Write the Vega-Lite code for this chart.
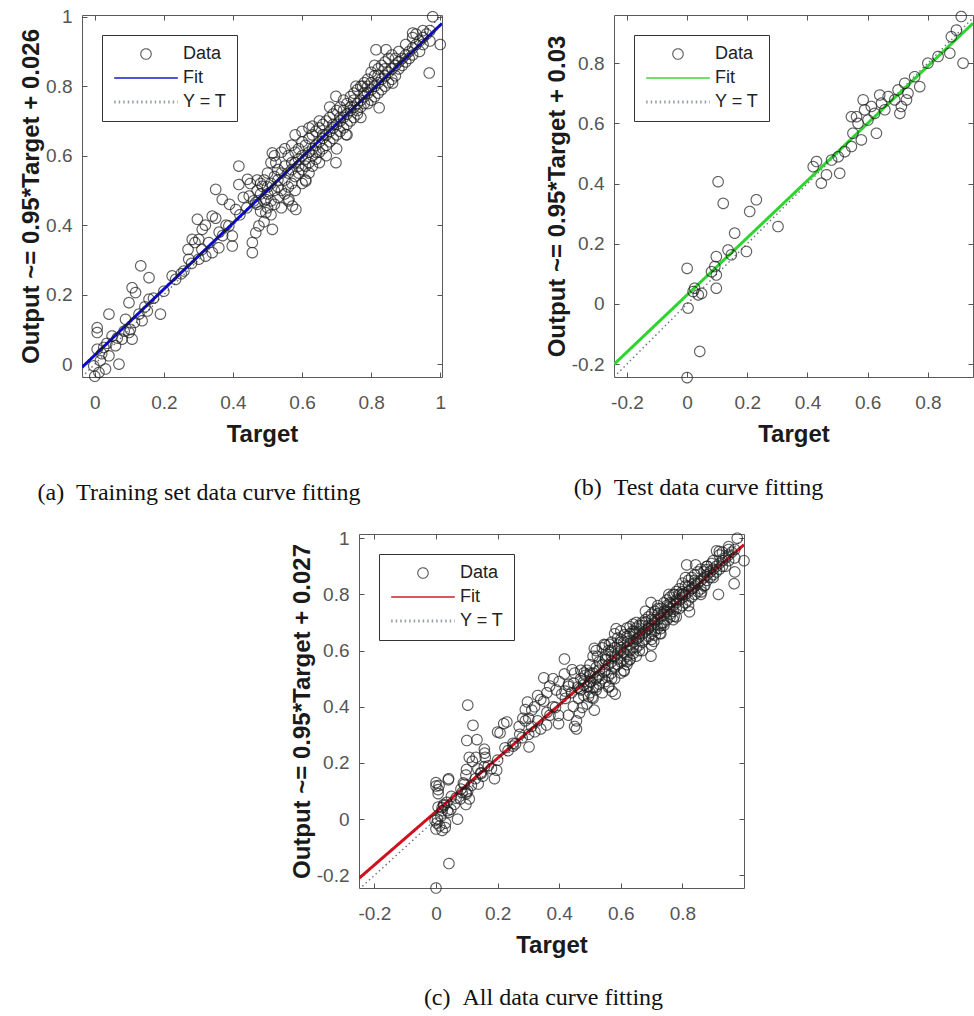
{
"$schema": "https://vega.github.io/schema/vega-lite/v6.json",
"padding": {"left": 19, "top": 7, "right": 0, "bottom": 4},
"background": "white",
"config": {
 "view": {"stroke": "#5a5a5a", "strokeWidth": 1},
 "axis": {"domain": false, "grid": false, "ticks": true, "tickSize": -5, "tickColor": "#555", "tickWidth": 1, "labelFont": "Liberation Sans", "labelFontSize": 19, "labelColor": "#555", "labelFlush": false, "labelOverlap": false, "titleFont": "Liberation Sans", "titleFontSize": 24, "titleFontWeight": "bold", "titleColor": "#1a1a1a"},
 "axisX": {"labelPadding": 21, "titlePadding": 10},
 "axisY": {"labelPadding": 15, "titlePadding": 2},
 "legend": {"orient": "top-left", "offset": 20, "padding": 10, "strokeColor": "#333", "fillColor": "white", "symbolSize": 200, "symbolOffset": 25, "labelOffset": 28, "rowPadding": 6, "labelFont": "Liberation Sans", "labelFontSize": 18, "labelColor": "#222", "symbolFillColor": "transparent"}
},
"datasets": {
"lines": [
{"p":"a","k":"Fit","t":-0.037,"o":-0.0092},{"p":"a","k":"Fit","t":1.005,"o":0.9808},
{"p":"a","k":"Y = T","t":-0.037,"o":-0.037},{"p":"a","k":"Y = T","t":1.005,"o":1.005},
{"p":"b","k":"Fit","t":-0.243,"o":-0.2009},{"p":"b","k":"Fit","t":0.95,"o":0.9325},
{"p":"b","k":"Y = T","t":-0.243,"o":-0.243},{"p":"b","k":"Y = T","t":0.95,"o":0.95},
{"p":"c","k":"Fit","t":-0.25,"o":-0.2105},{"p":"c","k":"Fit","t":1.0,"o":0.977},
{"p":"c","k":"Y = T","t":-0.25,"o":-0.25},{"p":"c","k":"Y = T","t":1.0,"o":1.0}
],
"pts": [
{"s":"a","t":0,"o":-0.035},{"s":"a","t":0.012,"o":-0.024},{"s":"a","t":-0.003,"o":-0.005},{"s":"a","t":0.031,"o":-0.014},{"s":"a","t":0.016,"o":0.01},{"s":"a","t":0.041,"o":0.024},{"s":"a","t":0.007,"o":0.043},{"s":"a","t":0.026,"o":0.048},{"s":"a","t":0.07,"o":0},{"s":"a","t":0.007,"o":0.105},{"s":"a","t":0.007,"o":0.091},{"s":"a","t":0.041,"o":0.144},{"s":"a","t":0.06,"o":0.053},{"s":"a","t":0.079,"o":0.072},{"s":"a","t":0.099,"o":0.091},{"s":"a","t":0.108,"o":0.072},{"s":"a","t":0.103,"o":0.1},{"s":"a","t":0.099,"o":0.177},{"s":"a","t":0.108,"o":0.22},{"s":"a","t":0.133,"o":0.283},{"s":"a","t":0.118,"o":0.206},{"s":"a","t":0.137,"o":0.125},{"s":"a","t":0.157,"o":0.249},{"s":"a","t":0.157,"o":0.187},{"s":"a","t":0.152,"o":0.153},{"s":"a","t":0.19,"o":0.144},{"s":"a","t":0.128,"o":0.144},{"s":"a","t":0.089,"o":0.129},{"s":"a","t":0.05,"o":0.081},{"s":"a","t":0.224,"o":0.254},{"s":"a","t":0.258,"o":0.268},{"s":"a","t":0.282,"o":0.359},{"s":"a","t":0.297,"o":0.417},{"s":"a","t":0.301,"o":0.359},{"s":"a","t":0.311,"o":0.388},{"s":"a","t":0.301,"o":0.302},{"s":"a","t":0.321,"o":0.311},{"s":"a","t":0.34,"o":0.426},{"s":"a","t":0.35,"o":0.503},{"s":"a","t":0.369,"o":0.474},{"s":"a","t":0.359,"o":0.335},{"s":"a","t":0.34,"o":0.321},{"s":"a","t":0.388,"o":0.398},{"s":"a","t":0.398,"o":0.369},{"s":"a","t":0.398,"o":0.34},{"s":"a","t":0.417,"o":0.57},{"s":"a","t":0.417,"o":0.517},{"s":"a","t":0.408,"o":0.445},{"s":"a","t":0.442,"o":0.532},{"s":"a","t":0.456,"o":0.321},{"s":"a","t":0.456,"o":0.35},{"s":"a","t":0.466,"o":0.378},{"s":"a","t":0.475,"o":0.398},{"s":"a","t":0.514,"o":0.388},{"s":"a","t":0.485,"o":0.512},{"s":"a","t":0.495,"o":0.474},{"s":"a","t":0.466,"o":0.465},{"s":"a","t":0.447,"o":0.484},{"s":"a","t":0.495,"o":0.436},{"s":"a","t":0.272,"o":0.302},{"s":"a","t":0.234,"o":0.244},
{"s":"a","t":0.02,"o":0.03},{"s":"a","t":0.035,"o":0.06},{"s":"a","t":0.065,"o":0.075},{"s":"a","t":0.085,"o":0.095},{"s":"a","t":0.115,"o":0.12},{"s":"a","t":0.145,"o":0.165},{"s":"a","t":0.17,"o":0.19},{"s":"a","t":0.2,"o":0.21},{"s":"a","t":0.25,"o":0.26},{"s":"a","t":0.28,"o":0.29},{"s":"a","t":0.31,"o":0.33},{"s":"a","t":0.33,"o":0.35},{"s":"a","t":0.36,"o":0.38},{"s":"a","t":0.38,"o":0.4},{"s":"a","t":0.42,"o":0.43},{"s":"a","t":0.44,"o":0.45},{"s":"a","t":0.46,"o":0.47},{"s":"a","t":0.29,"o":0.35},{"s":"a","t":0.32,"o":0.4},{"s":"a","t":0.35,"o":0.42},{"s":"a","t":0.37,"o":0.37},{"s":"a","t":0.43,"o":0.48},{"s":"a","t":0.45,"o":0.52},{"s":"a","t":0.39,"o":0.46},{"s":"a","t":0.27,"o":0.33},
{"s":"a","t":0.47,"o":0.5},{"s":"a","t":0.47,"o":0.46},{"s":"a","t":0.47,"o":0.53},
{"s":"a","t":0.48,"o":0.44},{"s":"a","t":0.48,"o":0.49},{"s":"a","t":0.48,"o":0.52},
{"s":"a","t":0.49,"o":0.47},{"s":"a","t":0.49,"o":0.53},{"s":"a","t":0.49,"o":0.41},
{"s":"a","t":0.5,"o":0.49},{"s":"a","t":0.5,"o":0.55},{"s":"a","t":0.5,"o":0.45},{"s":"a","t":0.5,"o":0.51},
{"s":"a","t":0.51,"o":0.52},{"s":"a","t":0.51,"o":0.47},{"s":"a","t":0.51,"o":0.58},{"s":"a","t":0.51,"o":0.43},
{"s":"a","t":0.52,"o":0.5},{"s":"a","t":0.52,"o":0.54},{"s":"a","t":0.52,"o":0.6},{"s":"a","t":0.52,"o":0.46},
{"s":"a","t":0.53,"o":0.51},{"s":"a","t":0.53,"o":0.56},{"s":"a","t":0.53,"o":0.48},{"s":"a","t":0.53,"o":0.53},
{"s":"a","t":0.54,"o":0.55},{"s":"a","t":0.54,"o":0.5},{"s":"a","t":0.54,"o":0.61},{"s":"a","t":0.54,"o":0.45},
{"s":"a","t":0.55,"o":0.53},{"s":"a","t":0.55,"o":0.57},{"s":"a","t":0.55,"o":0.49},{"s":"a","t":0.55,"o":0.62},
{"s":"a","t":0.56,"o":0.55},{"s":"a","t":0.56,"o":0.6},{"s":"a","t":0.56,"o":0.51},{"s":"a","t":0.56,"o":0.47},
{"s":"a","t":0.57,"o":0.56},{"s":"a","t":0.57,"o":0.52},{"s":"a","t":0.57,"o":0.63},{"s":"a","t":0.57,"o":0.58},
{"s":"a","t":0.58,"o":0.58},{"s":"a","t":0.58,"o":0.54},{"s":"a","t":0.58,"o":0.61},{"s":"a","t":0.58,"o":0.66},{"s":"a","t":0.58,"o":0.5},
{"s":"a","t":0.59,"o":0.57},{"s":"a","t":0.59,"o":0.62},{"s":"a","t":0.59,"o":0.55},{"s":"a","t":0.59,"o":0.59},
{"s":"a","t":0.6,"o":0.6},{"s":"a","t":0.6,"o":0.56},{"s":"a","t":0.6,"o":0.64},{"s":"a","t":0.6,"o":0.52},{"s":"a","t":0.6,"o":0.67},
{"s":"a","t":0.61,"o":0.59},{"s":"a","t":0.61,"o":0.63},{"s":"a","t":0.61,"o":0.57},{"s":"a","t":0.61,"o":0.53},
{"s":"a","t":0.62,"o":0.61},{"s":"a","t":0.62,"o":0.65},{"s":"a","t":0.62,"o":0.58},{"s":"a","t":0.62,"o":0.68},{"s":"a","t":0.62,"o":0.55},
{"s":"a","t":0.63,"o":0.62},{"s":"a","t":0.63,"o":0.6},{"s":"a","t":0.63,"o":0.66},{"s":"a","t":0.63,"o":0.57},
{"s":"a","t":0.64,"o":0.63},{"s":"a","t":0.64,"o":0.67},{"s":"a","t":0.64,"o":0.59},{"s":"a","t":0.64,"o":0.61},
{"s":"a","t":0.65,"o":0.64},{"s":"a","t":0.65,"o":0.61},{"s":"a","t":0.65,"o":0.68},{"s":"a","t":0.65,"o":0.7},{"s":"a","t":0.65,"o":0.58},
{"s":"a","t":0.66,"o":0.65},{"s":"a","t":0.66,"o":0.62},{"s":"a","t":0.66,"o":0.69},{"s":"a","t":0.66,"o":0.66},
{"s":"a","t":0.67,"o":0.66},{"s":"a","t":0.67,"o":0.7},{"s":"a","t":0.67,"o":0.63},{"s":"a","t":0.67,"o":0.6},
{"s":"a","t":0.68,"o":0.67},{"s":"a","t":0.68,"o":0.64},{"s":"a","t":0.68,"o":0.71},{"s":"a","t":0.68,"o":0.74},
{"s":"a","t":0.69,"o":0.68},{"s":"a","t":0.69,"o":0.72},{"s":"a","t":0.69,"o":0.65},{"s":"a","t":0.69,"o":0.69},
{"s":"a","t":0.7,"o":0.69},{"s":"a","t":0.7,"o":0.66},{"s":"a","t":0.7,"o":0.73},{"s":"a","t":0.7,"o":0.62},
{"s":"a","t":0.71,"o":0.7},{"s":"a","t":0.71,"o":0.74},{"s":"a","t":0.71,"o":0.67},{"s":"a","t":0.71,"o":0.71},
{"s":"a","t":0.72,"o":0.71},{"s":"a","t":0.72,"o":0.68},{"s":"a","t":0.72,"o":0.76},{"s":"a","t":0.72,"o":0.73},
{"s":"a","t":0.73,"o":0.72},{"s":"a","t":0.73,"o":0.75},{"s":"a","t":0.73,"o":0.69},{"s":"a","t":0.73,"o":0.66},
{"s":"a","t":0.74,"o":0.73},{"s":"a","t":0.74,"o":0.7},{"s":"a","t":0.74,"o":0.77},{"s":"a","t":0.74,"o":0.74},
{"s":"a","t":0.75,"o":0.74},{"s":"a","t":0.75,"o":0.78},{"s":"a","t":0.75,"o":0.71},{"s":"a","t":0.75,"o":0.76},
{"s":"a","t":0.76,"o":0.75},{"s":"a","t":0.76,"o":0.72},{"s":"a","t":0.76,"o":0.79},{"s":"a","t":0.76,"o":0.73},
{"s":"a","t":0.77,"o":0.76},{"s":"a","t":0.77,"o":0.8},{"s":"a","t":0.77,"o":0.74},{"s":"a","t":0.77,"o":0.71},
{"s":"a","t":0.78,"o":0.77},{"s":"a","t":0.78,"o":0.75},{"s":"a","t":0.78,"o":0.81},{"s":"a","t":0.78,"o":0.78},
{"s":"a","t":0.79,"o":0.78},{"s":"a","t":0.79,"o":0.82},{"s":"a","t":0.79,"o":0.75},{"s":"a","t":0.79,"o":0.8},
{"s":"a","t":0.8,"o":0.79},{"s":"a","t":0.8,"o":0.76},{"s":"a","t":0.8,"o":0.84},{"s":"a","t":0.8,"o":0.81},
{"s":"a","t":0.81,"o":0.8},{"s":"a","t":0.81,"o":0.83},{"s":"a","t":0.81,"o":0.77},{"s":"a","t":0.81,"o":0.86},
{"s":"a","t":0.82,"o":0.81},{"s":"a","t":0.82,"o":0.78},{"s":"a","t":0.82,"o":0.85},{"s":"a","t":0.82,"o":0.83},
{"s":"a","t":0.83,"o":0.82},{"s":"a","t":0.83,"o":0.86},{"s":"a","t":0.83,"o":0.79},
{"s":"a","t":0.84,"o":0.83},{"s":"a","t":0.84,"o":0.8},{"s":"a","t":0.84,"o":0.87},{"s":"a","t":0.84,"o":0.85},
{"s":"a","t":0.85,"o":0.84},{"s":"a","t":0.85,"o":0.88},{"s":"a","t":0.85,"o":0.81},
{"s":"a","t":0.86,"o":0.85},{"s":"a","t":0.86,"o":0.82},{"s":"a","t":0.86,"o":0.89},
{"s":"a","t":0.87,"o":0.86},{"s":"a","t":0.87,"o":0.88},{"s":"a","t":0.87,"o":0.83},
{"s":"a","t":0.88,"o":0.87},{"s":"a","t":0.88,"o":0.85},{"s":"a","t":0.88,"o":0.9},
{"s":"a","t":0.89,"o":0.88},{"s":"a","t":0.89,"o":0.86},
{"s":"a","t":0.9,"o":0.89},{"s":"a","t":0.9,"o":0.87},{"s":"a","t":0.9,"o":0.92},
{"s":"a","t":0.91,"o":0.88},{"s":"a","t":0.91,"o":0.9},
{"s":"a","t":0.92,"o":0.91},{"s":"a","t":0.92,"o":0.89},{"s":"a","t":0.92,"o":0.94},
{"s":"a","t":0.93,"o":0.92},{"s":"a","t":0.93,"o":0.95},
{"s":"a","t":0.94,"o":0.93},{"s":"a","t":0.94,"o":0.9},
{"s":"a","t":0.95,"o":0.94},{"s":"a","t":0.95,"o":0.96},{"s":"a","t":0.95,"o":0.92},
{"s":"a","t":0.96,"o":0.95},{"s":"a","t":0.97,"o":0.96},{"s":"a","t":0.97,"o":0.93},
{"s":"a","t":0.572,"o":0.455},{"s":"a","t":0.582,"o":0.445},{"s":"a","t":0.562,"o":0.474},{"s":"a","t":0.611,"o":0.527},{"s":"a","t":0.698,"o":0.58},{"s":"a","t":0.727,"o":0.661},{"s":"a","t":0.823,"o":0.738},{"s":"a","t":0.814,"o":0.905},{"s":"a","t":0.843,"o":0.905},{"s":"a","t":0.862,"o":0.809},{"s":"a","t":0.968,"o":0.838},{"s":"a","t":0.978,"o":1.0},{"s":"a","t":1.0,"o":0.92},{"s":"a","t":0.92,"o":0.953},{"s":"a","t":0.756,"o":0.8},{"s":"a","t":0.514,"o":0.608},{"s":"a","t":0.524,"o":0.58},{"s":"a","t":0.63,"o":0.685},{"s":"a","t":0.698,"o":0.771},{"s":"a","t":0.775,"o":0.8},
{"s":"b","t":0.0,"o":-0.245},{"s":"b","t":0.042,"o":-0.158},{"s":"b","t":0.0,"o":0.118},{"s":"b","t":0.003,"o":-0.014},{"s":"b","t":0.02,"o":0.041},{"s":"b","t":0.037,"o":0.03},{"s":"b","t":0.025,"o":0.052},{"s":"b","t":0.048,"o":0.035},{"s":"b","t":0.103,"o":0.406},{"s":"b","t":0.12,"o":0.334},{"s":"b","t":0.23,"o":0.346},{"s":"b","t":0.208,"o":0.307},{"s":"b","t":0.302,"o":0.257},{"s":"b","t":0.158,"o":0.235},{"s":"b","t":0.136,"o":0.179},{"s":"b","t":0.147,"o":0.163},{"s":"b","t":0.197,"o":0.174},{"s":"b","t":0.097,"o":0.157},{"s":"b","t":0.092,"o":0.124},{"s":"b","t":0.081,"o":0.107},{"s":"b","t":0.097,"o":0.096},{"s":"b","t":0.097,"o":0.052},{"s":"b","t":0.419,"o":0.456},{"s":"b","t":0.43,"o":0.473},{"s":"b","t":0.446,"o":0.401},{"s":"b","t":0.463,"o":0.429},{"s":"b","t":0.507,"o":0.434},{"s":"b","t":0.502,"o":0.489},{"s":"b","t":0.48,"o":0.478},{"s":"b","t":0.524,"o":0.506},{"s":"b","t":0.546,"o":0.523},{"s":"b","t":0.551,"o":0.567},{"s":"b","t":0.563,"o":0.622},{"s":"b","t":0.585,"o":0.678},{"s":"b","t":0.59,"o":0.645},{"s":"b","t":0.579,"o":0.545},{"s":"b","t":0.601,"o":0.611},{"s":"b","t":0.623,"o":0.633},{"s":"b","t":0.629,"o":0.567},{"s":"b","t":0.612,"o":0.656},{"s":"b","t":0.646,"o":0.667},{"s":"b","t":0.657,"o":0.645},{"s":"b","t":0.668,"o":0.689},{"s":"b","t":0.69,"o":0.678},{"s":"b","t":0.701,"o":0.711},{"s":"b","t":0.712,"o":0.656},{"s":"b","t":0.729,"o":0.678},{"s":"b","t":0.734,"o":0.7},{"s":"b","t":0.723,"o":0.733},{"s":"b","t":0.773,"o":0.722},{"s":"b","t":0.756,"o":0.755},{"s":"b","t":0.8,"o":0.8},{"s":"b","t":0.834,"o":0.822},{"s":"b","t":0.873,"o":0.833},{"s":"b","t":0.917,"o":0.8},{"s":"b","t":0.911,"o":0.955},{"s":"b","t":0.878,"o":0.888},{"s":"b","t":0.895,"o":0.91},{"s":"b","t":0.546,"o":0.622},{"s":"b","t":0.568,"o":0.6},{"s":"b","t":0.64,"o":0.694},{"s":"b","t":0.707,"o":0.633},
{"s":"v","t":0.0,"o":0.13},{"s":"v","t":0.01,"o":0.12},{"s":"v","t":0.04,"o":0.14},{"s":"v","t":0.02,"o":-0.04},{"s":"v","t":0.03,"o":-0.03},{"s":"v","t":0.005,"o":0.0},{"s":"v","t":0.1,"o":0.28},{"s":"v","t":0.13,"o":0.22},{"s":"v","t":0.16,"o":0.22},{"s":"v","t":0.18,"o":0.18},{"s":"v","t":0.2,"o":0.31},{"s":"v","t":0.22,"o":0.34},{"s":"v","t":0.25,"o":0.27},{"s":"v","t":0.29,"o":0.39},{"s":"v","t":0.33,"o":0.44},{"s":"v","t":0.36,"o":0.45},{"s":"v","t":0.38,"o":0.5},{"s":"v","t":0.4,"o":0.49},{"s":"v","t":0.43,"o":0.37},{"s":"v","t":0.45,"o":0.33},{"s":"v","t":0.5,"o":0.52},{"s":"v","t":0.52,"o":0.47},{"s":"v","t":0.55,"o":0.58},{"s":"v","t":0.57,"o":0.5},{"s":"v","t":0.6,"o":0.63},{"s":"v","t":0.62,"o":0.56},{"s":"v","t":0.64,"o":0.66},{"s":"v","t":0.66,"o":0.6},{"s":"v","t":0.68,"o":0.7},{"s":"v","t":0.7,"o":0.64},{"s":"v","t":0.72,"o":0.75},{"s":"v","t":0.74,"o":0.69},{"s":"v","t":0.76,"o":0.77},{"s":"v","t":0.78,"o":0.72},{"s":"v","t":0.8,"o":0.8},{"s":"v","t":0.82,"o":0.76},{"s":"v","t":0.84,"o":0.84},{"s":"v","t":0.86,"o":0.8},{"s":"v","t":0.88,"o":0.9},{"s":"v","t":0.9,"o":0.86},{"s":"v","t":0.93,"o":0.9},{"s":"v","t":0.95,"o":0.97},{"s":"v","t":0.97,"o":0.88}
]
},
"bounds": "flush",
"spacing": 519,
"resolve": {"scale": {"stroke": "independent", "shape": "independent", "strokeWidth": "independent", "strokeDash": "independent"}, "legend": {"stroke": "independent", "shape": "independent", "strokeWidth": "independent", "strokeDash": "independent"}},
"vconcat": [
{
 "hconcat": [
 {
  "width": 360, "height": 362,
  "title": {"text": "(a)\u00a0\u00a0Training set data curve fitting", "orient": "bottom", "anchor": "middle", "dx": -63, "offset": 35, "font": "Liberation Serif", "fontSize": 24, "fontWeight": "normal", "color": "#111"},
  "layer": [
   {"data": {"name": "lines"}, "transform": [{"filter": "datum.p == 'a' && datum.k == 'Y = T'"}], "mark": {"type": "line", "clip": true, "strokeWidth": 1.4},
    "encoding": {"x": {"field": "t", "type": "quantitative", "scale": {"domain": [-0.037, 1.005], "nice": false, "zero": false}, "axis": null}, "y": {"field": "o", "type": "quantitative", "scale": {"domain": [-0.037, 1.005], "nice": false, "zero": false}, "axis": null},
     "stroke": {"datum": "Y = T", "legend": {"title": null}}, "strokeDash": {"datum": "Y = T", "legend": {"title": null}}}},
   {"data": {"name": "lines"}, "transform": [{"filter": "datum.p == 'a' && datum.k == 'Fit'"}], "mark": {"type": "line", "clip": true, "strokeWidth": 3},
    "encoding": {"x": {"field": "t", "type": "quantitative", "scale": {"domain": [-0.037, 1.005], "nice": false, "zero": false}, "axis": null}, "y": {"field": "o", "type": "quantitative", "scale": {"domain": [-0.037, 1.005], "nice": false, "zero": false}, "axis": null},
     "stroke": {"datum": "Fit", "legend": {"title": null}}, "strokeDash": {"datum": "Fit", "legend": {"title": null}}}},
   {"data": {"name": "pts"}, "transform": [{"filter": "datum.s == 'a'"}], "mark": {"type": "point", "filled": false, "size": 200},
    "encoding": {
     "x": {"field": "t", "type": "quantitative", "scale": {"domain": [-0.037, 1.005], "nice": false, "zero": false}, "axis": {"orient": "bottom", "values": [0, 0.2, 0.4, 0.6, 0.8, 1], "title": "Target", "labelExpr": "datum.value < 0 ? '-' + format(-datum.value, '.1~f') : format(datum.value, '.1~f')"}},
     "y": {"field": "o", "type": "quantitative", "scale": {"domain": [-0.037, 1.005], "nice": false, "zero": false}, "axis": {"orient": "left", "values": [0, 0.2, 0.4, 0.6, 0.8, 1], "title": "Output ~= 0.95*Target + 0.026", "labelExpr": "datum.value < 0 ? '-' + format(-datum.value, '.1~f') : format(datum.value, '.1~f')"}},
     "stroke": {"datum": "Data", "scale": {"domain": ["Data", "Fit", "Y = T"], "range": ["#1e1e1e", "#0a0ad0", "#6a7480"]}, "legend": {"title": null}},
     "shape": {"datum": "Data", "scale": {"domain": ["Data", "Fit", "Y = T"], "range": ["M-0.74,0A0.74,0.74 0 1,1 0.74,0A0.74,0.74 0 1,1 -0.74,0", "M-4.5,0H4.5", "M-4.5,0H4.5"]}, "legend": {"title": null}},
     "strokeWidth": {"datum": "Data", "scale": {"domain": ["Data", "Fit", "Y = T"], "range": [1.15, 3.2, 1.4]}, "legend": {"title": null}},
     "strokeDash": {"datum": "Data", "scale": {"domain": ["Data", "Fit", "Y = T"], "range": [[1, 0], [1, 0], [1.5, 3]]}, "legend": {"title": null}}
    }},
   {"data": {"name": "pts"}, "transform": [{"filter": "datum.s == 'a'"}], "mark": {"type": "point", "opacity": 0},
    "encoding": {
     "x": {"field": "t", "type": "quantitative", "scale": {"domain": [-0.037, 1.005], "nice": false, "zero": false}, "axis": {"orient": "top", "values": [0, 0.2, 0.4, 0.6, 0.8, 1], "labels": false, "title": null}},
     "y": {"field": "o", "type": "quantitative", "scale": {"domain": [-0.037, 1.005], "nice": false, "zero": false}, "axis": {"orient": "right", "values": [0, 0.2, 0.4, 0.6, 0.8, 1], "labels": false, "title": null}}
    }}
  ],
  "resolve": {"scale": {"x": "independent", "y": "independent"}, "axis": {"x": "independent", "y": "independent"}}
 },
 {
  "width": 359, "height": 362,
  "title": {"text": "(b)\u00a0\u00a0Test data curve fitting", "orient": "bottom", "anchor": "middle", "dx": -95, "offset": 30, "font": "Liberation Serif", "fontSize": 24, "fontWeight": "normal", "color": "#111"},
  "layer": [
   {"data": {"name": "lines"}, "transform": [{"filter": "datum.p == 'b' && datum.k == 'Y = T'"}], "mark": {"type": "line", "clip": true, "strokeWidth": 1.4},
    "encoding": {"x": {"field": "t", "type": "quantitative", "scale": {"domain": [-0.243, 0.95], "nice": false, "zero": false}, "axis": null}, "y": {"field": "o", "type": "quantitative", "scale": {"domain": [-0.243, 0.96], "nice": false, "zero": false}, "axis": null},
     "stroke": {"datum": "Y = T", "legend": {"title": null}}, "strokeDash": {"datum": "Y = T", "legend": {"title": null}}}},
   {"data": {"name": "lines"}, "transform": [{"filter": "datum.p == 'b' && datum.k == 'Fit'"}], "mark": {"type": "line", "clip": true, "strokeWidth": 3},
    "encoding": {"x": {"field": "t", "type": "quantitative", "scale": {"domain": [-0.243, 0.95], "nice": false, "zero": false}, "axis": null}, "y": {"field": "o", "type": "quantitative", "scale": {"domain": [-0.243, 0.96], "nice": false, "zero": false}, "axis": null},
     "stroke": {"datum": "Fit", "legend": {"title": null}}, "strokeDash": {"datum": "Fit", "legend": {"title": null}}}},
   {"data": {"name": "pts"}, "transform": [{"filter": "datum.s == 'b'"}], "mark": {"type": "point", "filled": false, "size": 200},
    "encoding": {
     "x": {"field": "t", "type": "quantitative", "scale": {"domain": [-0.243, 0.95], "nice": false, "zero": false}, "axis": {"orient": "bottom", "values": [-0.2, 0, 0.2, 0.4, 0.6, 0.8], "title": "Target", "labelExpr": "datum.value < 0 ? '-' + format(-datum.value, '.1~f') : format(datum.value, '.1~f')"}},
     "y": {"field": "o", "type": "quantitative", "scale": {"domain": [-0.243, 0.96], "nice": false, "zero": false}, "axis": {"orient": "left", "values": [-0.2, 0, 0.2, 0.4, 0.6, 0.8], "title": "Output ~= 0.95*Target + 0.03", "labelExpr": "datum.value < 0 ? '-' + format(-datum.value, '.1~f') : format(datum.value, '.1~f')"}},
     "stroke": {"datum": "Data", "scale": {"domain": ["Data", "Fit", "Y = T"], "range": ["#1e1e1e", "#2ed52e", "#6a7480"]}, "legend": {"title": null}},
     "shape": {"datum": "Data", "scale": {"domain": ["Data", "Fit", "Y = T"], "range": ["M-0.74,0A0.74,0.74 0 1,1 0.74,0A0.74,0.74 0 1,1 -0.74,0", "M-4.5,0H4.5", "M-4.5,0H4.5"]}, "legend": {"title": null}},
     "strokeWidth": {"datum": "Data", "scale": {"domain": ["Data", "Fit", "Y = T"], "range": [1.15, 3.2, 1.4]}, "legend": {"title": null}},
     "strokeDash": {"datum": "Data", "scale": {"domain": ["Data", "Fit", "Y = T"], "range": [[1, 0], [1, 0], [1.5, 3]]}, "legend": {"title": null}}
    }},
   {"data": {"name": "pts"}, "transform": [{"filter": "datum.s == 'b'"}], "mark": {"type": "point", "opacity": 0},
    "encoding": {
     "x": {"field": "t", "type": "quantitative", "scale": {"domain": [-0.243, 0.95], "nice": false, "zero": false}, "axis": {"orient": "top", "values": [-0.2, 0, 0.2, 0.4, 0.6, 0.8], "labels": false, "title": null}},
     "y": {"field": "o", "type": "quantitative", "scale": {"domain": [-0.243, 0.96], "nice": false, "zero": false}, "axis": {"orient": "right", "values": [-0.2, 0, 0.2, 0.4, 0.6, 0.8], "labels": false, "title": null}}
    }}
  ],
  "resolve": {"scale": {"x": "independent", "y": "independent"}, "axis": {"x": "independent", "y": "independent"}}
 }
 ],
 "spacing": 172,
 "bounds": "flush",
 "resolve": {"scale": {"stroke": "independent", "shape": "independent", "strokeWidth": "independent", "strokeDash": "independent"}, "legend": {"stroke": "independent", "shape": "independent", "strokeWidth": "independent", "strokeDash": "independent"}}
},
{
 "hconcat": [
 {"width": 277, "height": 354, "view": {"stroke": null}, "data": {"values": [{"z": 0}]}, "mark": {"type": "point", "opacity": 0}, "encoding": {}},
 {
  "width": 385, "height": 354,
  "title": {"text": "(c)\u00a0\u00a0All data curve fitting", "orient": "bottom", "anchor": "middle", "dx": -8, "offset": 29, "font": "Liberation Serif", "fontSize": 24, "fontWeight": "normal", "color": "#111"},
  "layer": [
   {"data": {"name": "lines"}, "transform": [{"filter": "datum.p == 'c' && datum.k == 'Y = T'"}], "mark": {"type": "line", "clip": true, "strokeWidth": 1.4},
    "encoding": {"x": {"field": "t", "type": "quantitative", "scale": {"domain": [-0.25, 1.0], "nice": false, "zero": false}, "axis": null}, "y": {"field": "o", "type": "quantitative", "scale": {"domain": [-0.245, 1.015], "nice": false, "zero": false}, "axis": null},
     "stroke": {"datum": "Y = T", "legend": {"title": null}}, "strokeDash": {"datum": "Y = T", "legend": {"title": null}}}},
   {"data": {"name": "lines"}, "transform": [{"filter": "datum.p == 'c' && datum.k == 'Fit'"}], "mark": {"type": "line", "clip": true, "strokeWidth": 3},
    "encoding": {"x": {"field": "t", "type": "quantitative", "scale": {"domain": [-0.25, 1.0], "nice": false, "zero": false}, "axis": null}, "y": {"field": "o", "type": "quantitative", "scale": {"domain": [-0.245, 1.015], "nice": false, "zero": false}, "axis": null},
     "stroke": {"datum": "Fit", "legend": {"title": null}}, "strokeDash": {"datum": "Fit", "legend": {"title": null}}}},
   {"data": {"name": "pts"}, "mark": {"type": "point", "filled": false, "size": 200},
    "encoding": {
     "x": {"field": "t", "type": "quantitative", "scale": {"domain": [-0.25, 1.0], "nice": false, "zero": false}, "axis": {"orient": "bottom", "values": [-0.2, 0, 0.2, 0.4, 0.6, 0.8], "title": "Target", "labelExpr": "datum.value < 0 ? '-' + format(-datum.value, '.1~f') : format(datum.value, '.1~f')"}},
     "y": {"field": "o", "type": "quantitative", "scale": {"domain": [-0.245, 1.015], "nice": false, "zero": false}, "axis": {"orient": "left", "values": [-0.2, 0, 0.2, 0.4, 0.6, 0.8, 1], "title": "Output ~= 0.95*Target + 0.027", "labelExpr": "datum.value < 0 ? '-' + format(-datum.value, '.1~f') : format(datum.value, '.1~f')"}},
     "stroke": {"datum": "Data", "scale": {"domain": ["Data", "Fit", "Y = T"], "range": ["#1e1e1e", "#d0101c", "#6a7480"]}, "legend": {"title": null}},
     "shape": {"datum": "Data", "scale": {"domain": ["Data", "Fit", "Y = T"], "range": ["M-0.74,0A0.74,0.74 0 1,1 0.74,0A0.74,0.74 0 1,1 -0.74,0", "M-4.5,0H4.5", "M-4.5,0H4.5"]}, "legend": {"title": null}},
     "strokeWidth": {"datum": "Data", "scale": {"domain": ["Data", "Fit", "Y = T"], "range": [1.15, 3.2, 1.4]}, "legend": {"title": null}},
     "strokeDash": {"datum": "Data", "scale": {"domain": ["Data", "Fit", "Y = T"], "range": [[1, 0], [1, 0], [1.5, 3]]}, "legend": {"title": null}}
    }},
   {"data": {"name": "pts"}, "mark": {"type": "point", "opacity": 0},
    "encoding": {
     "x": {"field": "t", "type": "quantitative", "scale": {"domain": [-0.25, 1.0], "nice": false, "zero": false}, "axis": {"orient": "top", "values": [-0.2, 0, 0.2, 0.4, 0.6, 0.8], "labels": false, "title": null}},
     "y": {"field": "o", "type": "quantitative", "scale": {"domain": [-0.245, 1.015], "nice": false, "zero": false}, "axis": {"orient": "right", "values": [-0.2, 0, 0.2, 0.4, 0.6, 0.8, 1], "labels": false, "title": null}}
    }}
  ],
  "resolve": {"scale": {"x": "independent", "y": "independent"}, "axis": {"x": "independent", "y": "independent"}}
 }
 ],
 "spacing": 0,
 "bounds": "flush",
 "resolve": {"scale": {"stroke": "independent", "shape": "independent", "strokeWidth": "independent", "strokeDash": "independent"}, "legend": {"stroke": "independent", "shape": "independent", "strokeWidth": "independent", "strokeDash": "independent"}}
}
]
}
